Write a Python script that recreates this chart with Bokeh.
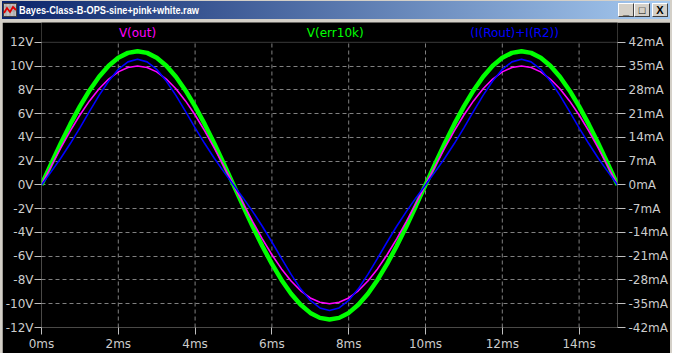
from bokeh.plotting import figure
from bokeh.models import (Range1d, LinearAxis, FixedTicker, CustomJSTickFormatter,
                          Div, ColumnDataSource, BoxAnnotation)
from bokeh.layouts import column
from bokeh.embed import file_html
from bokeh.resources import INLINE
from bokeh.core.properties import value

# ---------------- data ----------------
window_title = "Bayes-Class-B-OPS-sine+pink+white.raw"
series_names = ["V(out)", "V(err10k)", "(I(Rout)+I(R2))"]

t_ms = [0.0, 0.25, 0.5, 0.75, 1.0, 1.25, 1.5, 1.75, 2.0, 2.25, 2.5,
        2.75, 3.0, 3.25, 3.5, 3.75, 4.0, 4.25, 4.5, 4.75, 5.0,
        5.25, 5.5, 5.75, 6.0, 6.25, 6.5, 6.75, 7.0, 7.25, 7.5,
        7.75, 8.0, 8.25, 8.5, 8.75, 9.0, 9.25, 9.5, 9.75, 10.0,
        10.25, 10.5, 10.75, 11.0, 11.25, 11.5, 11.75, 12.0, 12.25, 12.5,
        12.75, 13.0, 13.25, 13.5, 13.75, 14.0, 14.25, 14.5, 14.75, 15.0]

v_out = [0.0, 1.56, 3.09, 4.54, 5.88, 7.07, 8.09, 8.91, 9.51, 9.88, 10.0,
         9.88, 9.51, 8.91, 8.09, 7.07, 5.88, 4.54, 3.09, 1.56, 0.0,
         -1.56, -3.09, -4.54, -5.88, -7.07, -8.09, -8.91, -9.51, -9.88, -10.0,
         -9.88, -9.51, -8.91, -8.09, -7.07, -5.88, -4.54, -3.09, -1.56, 0.0,
         1.56, 3.09, 4.54, 5.88, 7.07, 8.09, 8.91, 9.51, 9.88, 10.0,
         9.88, 9.51, 8.91, 8.09, 7.07, 5.88, 4.54, 3.09, 1.56, 0.0]

v_err10k = [0.0, 1.76, 3.48, 5.11, 6.61, 7.95, 9.10, 10.02, 10.70, 11.11, 11.25,
            11.11, 10.70, 10.02, 9.10, 7.95, 6.61, 5.11, 3.48, 1.76, 0.0,
            -1.77, -3.50, -5.14, -6.65, -8.00, -9.16, -10.09, -10.77, -11.19, -11.32,
            -11.19, -10.77, -10.09, -9.16, -8.00, -6.65, -5.14, -3.50, -1.77, 0.0,
            1.76, 3.48, 5.11, 6.61, 7.95, 9.10, 10.02, 10.70, 11.11, 11.25,
            11.11, 10.70, 10.02, 9.10, 7.95, 6.61, 5.11, 3.48, 1.76, 0.0]

i_rout_r2_mA = [0.0, 3.83, 7.86, 12.18, 16.82, 21.64, 26.36, 30.62, 34.03, 36.24, 37.0,
                36.24, 34.03, 30.62, 26.36, 21.64, 16.82, 12.18, 7.86, 3.83, 0.0,
                -3.83, -7.86, -12.18, -16.82, -21.64, -26.36, -30.62, -34.03, -36.24, -37.0,
                -36.24, -34.03, -30.62, -26.36, -21.64, -16.82, -12.18, -7.86, -3.83, 0.0,
                3.83, 7.86, 12.18, 16.82, 21.64, 26.36, 30.62, 34.03, 36.24, 37.0,
                36.24, 34.03, 30.62, 26.36, 21.64, 16.82, 12.18, 7.86, 3.83, 0.0]

x_ticks_ms = [0, 2, 4, 6, 8, 10, 12, 14]
y_ticks_V = [-12, -10, -8, -6, -4, -2, 0, 2, 4, 6, 8, 10, 12]
y_ticks_mA = [-42, -35, -28, -21, -14, -7, 0, 7, 14, 21, 28, 35, 42]
label_pos_ms = [2.5, 7.65, 12.32]

# ---------------- styling / geometry ----------------
BG = "black"
FRAME = "#c0c0c0"
GRID = "#808080"
TXT = "#cccccc"
FONT = "DejaVu Sans"
COLORS = ["#ff00ff", "#00ff00", "#0000ff"]

FIG_W, FIG_H = 668, 331
TOP_PAD, BOTTOM_B = 20, 23                  # px of black above the 12V line / below frame
v_lo, v_hi = -12, 12
px_per_v = (FIG_H - BOTTOM_B - TOP_PAD) / (v_hi - v_lo)
y_top = v_hi + TOP_PAD / px_per_v           # frame extends up into the label strip
mA_per_v = 42 / 12
label_y = v_hi + 9 / px_per_v

src = ColumnDataSource(dict(t=t_ms, vout=v_out, verr=v_err10k, i=i_rout_r2_mA))

p = figure(width=FIG_W, height=FIG_H, output_backend="svg", toolbar_location=None,
           x_range=Range1d(0, 15), y_range=Range1d(v_lo, y_top),
           background_fill_color=BG, border_fill_color=BG,
           min_border_left=38, min_border_right=51, min_border_top=0,
           min_border_bottom=BOTTOM_B, margin=(3, 2, 0, 2))
p.extra_y_ranges = {"i": Range1d(v_lo * mA_per_v, y_top * mA_per_v)}
p.outline_line_color = None

# grid: horizontal via ygrid, vertical via segments limited to the plot box
p.ygrid.ticker = FixedTicker(ticks=y_ticks_V[1:-1])
p.ygrid.grid_line_color = GRID
p.ygrid.grid_line_dash = "4 3"
p.xgrid.visible = False
gx = x_ticks_ms[1:]
p.segment(x0=gx, x1=gx, y0=[v_lo] * len(gx), y1=[v_hi] * len(gx),
          line_color=GRID, line_dash="4 3", line_width=1)

def style_axis(ax, tick_out, standoff):
    ax.axis_line_color = None
    ax.major_tick_line_color = FRAME
    ax.minor_tick_line_color = None
    ax.major_tick_out = tick_out
    ax.major_tick_in = 0
    ax.major_label_text_font = FONT
    ax.major_label_text_font_size = "12px"
    ax.major_label_text_color = TXT
    ax.major_label_standoff = standoff

xa = p.xaxis[0]
xa.ticker = FixedTicker(ticks=x_ticks_ms)
xa.formatter = CustomJSTickFormatter(code="return tick.toFixed(0) + 'ms';")
style_axis(xa, 7, 2)

ya = p.yaxis[0]
ya.ticker = FixedTicker(ticks=y_ticks_V)
ya.formatter = CustomJSTickFormatter(code="return tick.toFixed(0) + 'V';")
style_axis(ya, 7, 1)

ra = LinearAxis(y_range_name="i", ticker=FixedTicker(ticks=y_ticks_mA),
                formatter=CustomJSTickFormatter(code="return tick.toFixed(0) + 'mA';"))
style_axis(ra, 8, 3)
p.add_layout(ra, "right")

# plot box outline (0..15 ms, -12..12 V)
p.add_layout(BoxAnnotation(left=0, right=15, bottom=v_lo, top=v_hi,
                           fill_alpha=0, line_color=FRAME, line_width=1))

p.line("t", "verr", source=src, line_color=COLORS[1], line_width=4.5)
p.line("t", "vout", source=src, line_color=COLORS[0], line_width=1.6)
p.line("t", "i", source=src, line_color=COLORS[2], line_width=1.6, y_range_name="i")

p.text(x=label_pos_ms, y=[label_y] * 3, text=series_names, text_color=COLORS,
       text_align="center", text_baseline="middle",
       text_font=value(FONT), text_font_size="12px")

icon = ('<svg width="14" height="14" style="margin:0 2px 0 1px;flex:none">'
        '<rect x="0.5" y="0.5" width="13" height="13" fill="#c0c0c0" stroke="#404040"/>'
        '<path d="M3 1V13M7 1V13M11 1V13M1 4H13M1 8H13" stroke="#909090" stroke-width="0.6"/>'
        '<polyline points="1,10 4,5 7,9 10,4 13,7" fill="none" stroke="#e00000" stroke-width="1.8"/></svg>')

def btn(glyph, ml):
    return ('<span style="display:flex;align-items:center;justify-content:center;'
            'box-sizing:border-box;width:16px;height:14px;margin-left:%dpx;background:#d4d0c8;'
            'border:1px solid;border-color:#ffffff #404040 #404040 #ffffff;'
            'font:bold 11px \'Liberation Sans\';color:black;line-height:11px">%s</span>' % (ml, glyph))

title_html = ('<div style="display:flex;align-items:center;width:668px;height:18px;'
              'background:linear-gradient(to right,#0a246a,#a6caf0);">'
              + icon +
              '<span style="display:inline-block;width:180px;overflow:visible;'
              'color:white;font:bold 11.5px \'Liberation Sans\';white-space:nowrap;'
              'transform:scaleX(0.8);transform-origin:left center">' + window_title + '</span>'
              '<span style="margin-left:auto;margin-right:2px;display:flex">'
              + btn("_", 0) + btn("&#9633;", 0) + btn("X", 2) +
              '</span></div>')

title_div = Div(text=title_html, width=668, height=18, margin=(1, 2, 0, 2))

page = column(title_div, p, styles={"background-color": "#d4d0c8"}, spacing=0)

open("out.html", "w").write(file_html(page, INLINE))
